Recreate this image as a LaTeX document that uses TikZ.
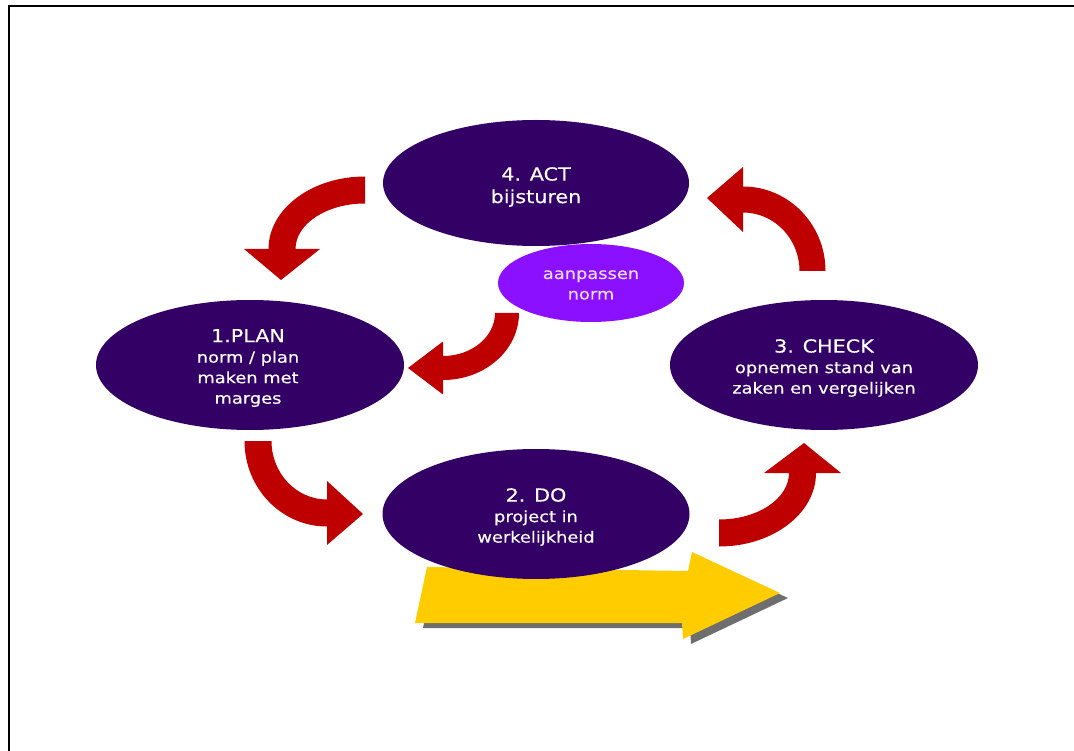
\documentclass[tikz,border=0pt]{standalone}
\usepackage{fontspec}
\newfontfamily\labelfont[FakeStretch=1.15,FakeBold=0.4]{DejaVu Sans}
\usetikzlibrary{shapes.geometric,calc}
\definecolor{deepviolet}{HTML}{330066}
\definecolor{brightviolet}{HTML}{8B10FF}
\definecolor{softlilac}{HTML}{EADCFF}
\definecolor{cyclered}{HTML}{BE0000}
\definecolor{flowyellow}{HTML}{FFCC00}
\definecolor{shadowgrey}{HTML}{6E6E6E}

% Bent block arrow along an elliptical quarter arc.
% #1 centre, #2 x radius, #3 y radius, #4 half shaft width,
% #5 tail angle, #6 head angle, #7 half head width, #8 tip point
\newcommand\bentarrow[8]{%
  \pgfmathsetmacro\outx{#2+#4}\pgfmathsetmacro\outy{#3+#4}%
  \pgfmathsetmacro\inx{#2-#4}\pgfmathsetmacro\iny{#3-#4}%
  \pgfmathsetmacro\hox{#2+#7}\pgfmathsetmacro\hoy{#3+#7}%
  \pgfmathsetmacro\hix{#2-#7}\pgfmathsetmacro\hiy{#3-#7}%
  \fill[cyclered]
    ($(#1)+({\outx*cos(#5)},{\outy*sin(#5)})$)
    arc[start angle=#5, end angle=#6, x radius=\outx, y radius=\outy]
    -- ($(#1)+({\hox*cos(#6)},{\hoy*sin(#6)})$)
    -- (#8)
    -- ($(#1)+({\hix*cos(#6)},{\hiy*sin(#6)})$)
    -- ($(#1)+({\inx*cos(#6)},{\iny*sin(#6)})$)
    arc[start angle=#6, end angle=#5, x radius=\inx, y radius=\iny]
    -- cycle;}
\newcommand\phasetitle{\fontsize{18}{21}\selectfont}

\begin{document}
\begin{tikzpicture}[x=1pt,y=-1pt,
  phase/.style={ellipse, fill=deepviolet, inner sep=0pt},
  revise/.style={ellipse, fill=brightviolet, inner sep=0pt},
  phasetext/.style={text=white, inner sep=0pt, align=center,
    font=\labelfont\fontsize{15.5}{20.5}\selectfont},
  revisetext/.style={phasetext, text=softlilac},
]
\useasboundingbox (0,0) rectangle (1074,751);
\clip (0,0) rectangle (1074,751);

% page frame
\draw[line width=2pt] (8.8,770) -- (8.8,5.8) -- (1090,5.8);

% forward arrow under DO
\fill[shadowgrey] (435,572) -- (696,576) -- (700,557) -- (788,598)
  -- (691,644) -- (690,628) -- (423,628) -- cycle;
\fill[flowyellow] (427,567) -- (688,571) -- (692,552) -- (780,593)
  -- (683,639) -- (682,623) -- (415,623) -- cycle;

% phases
\node[phase, minimum width=306, minimum height=126] (act) at (536,183) {};
\node[phase, minimum width=308, minimum height=130] (plan) at (250,365) {};
\node[phase, minimum width=307, minimum height=130] (do) at (536,514) {};
\node[phase, minimum width=308, minimum height=130] (check) at (824,365) {};
\node[revise, minimum width=186, minimum height=78] (norm) at (591,283) {};

\node[phasetext] (act-text) at ($(act.center)+(0,4)$)
  {{\phasetitle 4. ACT}\\[2pt] {\phasetitle bijsturen}};
\node[phasetext] (plan-text) at ($(plan.center)+(-2,3)$)
  {{\phasetitle 1.PLAN}\\ norm / plan\\ maken met\\ marges};
\node[phasetext] (do-text) at ($(do.center)+(0,3)$)
  {{\phasetitle 2. DO}\\ project in\\ werkelijkheid};
\node[phasetext] (check-text) at ($(check.center)+(0,3)$)
  {{\phasetitle 3. CHECK}\\ opnemen stand van\\ zaken en vergelijken};
\node[revisetext] (norm-text) at ($(norm.center)+(0,2)$)
  {aanpassen\\ norm};

% cycle arrows
\coordinate (actplan) at (365,249);
\coordinate (plando) at (327,441);
\coordinate (docheck) at (719,473);
\coordinate (checkact) at (743,271);
\coordinate (normplan) at (443,313);
\bentarrow{actplan}{83}{59}{13.5}{270}{180}{38}{281,280}
\bentarrow{plando}{69}{72}{13.5}{180}{90}{32}{363,514}
\bentarrow{docheck}{83.5}{60}{13.5}{90}{0}{38.5}{804,443}
\bentarrow{checkact}{69.5}{71.5}{13}{0}{-90}{32.5}{707,198}
\bentarrow{normplan}{64}{55}{12}{0}{90}{26.5}{408,368}
\end{tikzpicture}
\end{document}
